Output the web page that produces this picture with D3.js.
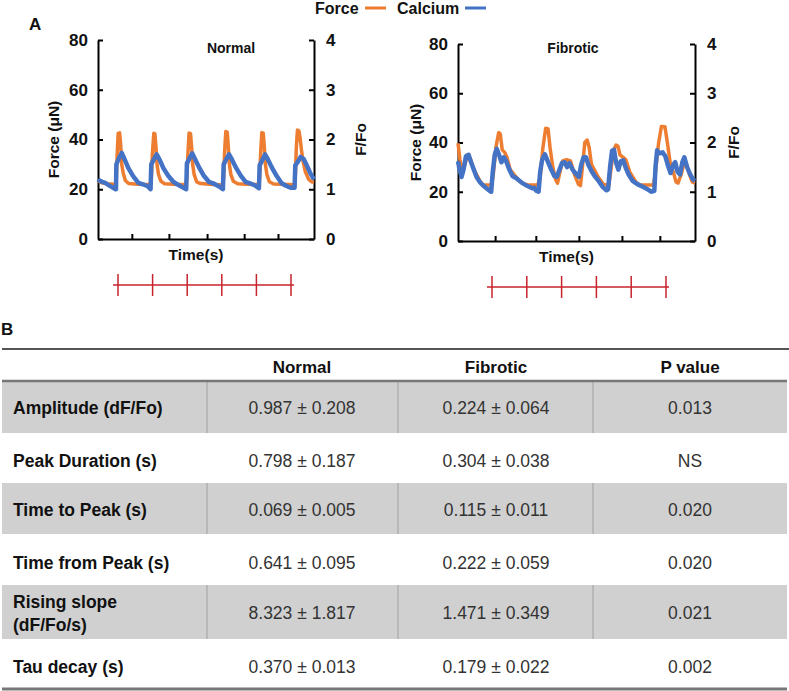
<!DOCTYPE html>
<html><head><meta charset="utf-8">
<script src="https://cdn.jsdelivr.net/npm/d3@7"></script>
<style>
html,body{margin:0;padding:0;background:#fff;}
svg{display:block;font-family:"Liberation Sans",Arial,Helvetica,sans-serif;}
</style></head>
<body>
<svg id="chart" width="789" height="691"></svg>
<script>
// ---------------- DATA ----------------
const seriesNames = ["Force", "Calcium"];
const panelTitles = ["Normal", "Fibrotic"];
const forceTicks = [0, 20, 40, 60, 80];
const ratioTicks = [0, 1, 2, 3, 4];
const timeTicksNormal = [0.94, 1.97, 3.03, 4.06, 5.0];
const timeTicksFibrotic = [0.94, 1.97, 3.06, 4.15, 5.11];
const stimuli = [0, 1, 2, 3, 4, 5];

// Normal: force (µN) vs time
const normalForce = [
  [0,23.3],[0.1,22.6],[0.25,22.2],[0.45,22],
  [0.5,22],[0.53,33],[0.56,42.5],[0.6,42.7],[0.63,38],[0.66,30],[0.7,26.5],[0.76,23.5],[0.85,22.3],[1.1,22],[1.35,21.9],[1.46,22],
  [1.48,24],[1.51,34],[1.55,42.5],[1.58,42.3],[1.61,37],[1.64,30],[1.68,26],[1.75,23.2],[1.85,22.2],[2.1,22],[2.45,21.8],
  [2.47,25],[2.5,35],[2.53,42.6],[2.57,42.4],[2.6,37],[2.63,30],[2.67,26],[2.74,23],[2.85,22.3],[3.1,22],[3.47,21.7],
  [3.49,25],[3.52,36],[3.55,43.2],[3.59,43],[3.62,37],[3.65,30],[3.69,26],[3.76,23.2],[3.88,22.2],[4.1,22],[4.47,21.9],
  [4.49,25],[4.52,35],[4.55,42.8],[4.59,42.6],[4.62,37],[4.65,30],[4.69,26],[4.76,23],[4.88,22.1],[5.1,22],[5.46,21.8],
  [5.48,25],[5.51,37],[5.54,43.8],[5.58,43.5],[5.61,41],[5.65,36],[5.7,31],[5.76,27],[5.85,24],[5.93,23],[6,22.8]
];
// Normal: calcium (F/Fo) vs time
const normalCalcium = [
  [0,1.2],[0.05,1.17],[0.12,1.15],[0.2,1.13],[0.3,1.08],[0.4,1.04],[0.49,1.0],
  [0.5,1.0],[0.51,1.5],[0.58,1.62],[0.66,1.73],[0.74,1.6],[0.84,1.43],[0.98,1.26],[1.12,1.13],[1.25,1.1],[1.38,1.06],[1.46,1.0],
  [1.48,1.5],[1.55,1.6],[1.63,1.7],[1.72,1.58],[1.82,1.42],[1.95,1.27],[2.08,1.16],[2.2,1.1],[2.35,1.04],[2.45,1.0],
  [2.47,1.52],[2.54,1.62],[2.62,1.72],[2.7,1.6],[2.8,1.45],[2.94,1.27],[3.08,1.15],[3.2,1.12],[3.35,1.06],[3.47,1.0],
  [3.49,1.5],[3.56,1.6],[3.64,1.7],[3.72,1.6],[3.82,1.45],[3.96,1.28],[4.1,1.15],[4.22,1.12],[4.35,1.08],[4.47,1.02],
  [4.49,1.48],[4.56,1.58],[4.64,1.7],[4.72,1.6],[4.82,1.45],[4.96,1.27],[5.1,1.12],[5.22,1.07],[5.35,1.03],[5.46,1.03],
  [5.48,1.48],[5.55,1.55],[5.63,1.65],[5.72,1.6],[5.8,1.48],[5.9,1.32],[6,1.2]
];
// Fibrotic: force (µN) vs time
const fibroticForce = [
  [0,39.7],[0.05,33],[0.1,28.8],[0.17,31],[0.25,35],[0.32,33],[0.4,29],[0.47,27],[0.55,24.5],[0.63,22.7],[0.75,22.7],[0.85,22.7],
  [0.9,28],[0.96,38],[1.03,44],[1.07,43.5],[1.12,37],[1.18,36],[1.24,34],[1.32,29],[1.42,27],[1.55,24.5],[1.68,23.2],[1.8,22.7],[2.02,22.7],
  [2.08,26],[2.15,38],[2.22,45.8],[2.28,45.5],[2.33,38],[2.4,30],[2.47,25],[2.52,23.5],[2.58,28],[2.65,32.5],[2.75,33],[2.85,32.5],[2.95,27],[3.05,23],[3.1,22.5],
  [3.15,30],[3.21,40],[3.27,41],[3.32,38],[3.38,31],[3.45,29],[3.55,26],[3.68,23],[3.82,22.7],
  [3.88,30],[3.94,37],[4.0,39],[4.05,38.5],[4.1,35],[4.18,34],[4.25,33],[4.35,28],[4.5,24],[4.6,22.7],[4.95,22.7],
  [5.0,28],[5.08,40],[5.15,46.5],[5.24,46.4],[5.3,40],[5.37,32],[5.45,28],[5.52,24],[5.57,23.5],[5.65,27],[5.72,31.5],[5.78,31],[5.86,27],[5.93,24],[6,23.5]
];
// Fibrotic: calcium (F/Fo) vs time
const fibroticCalcium = [
  [0,1.62],[0.04,1.45],[0.09,1.3],[0.14,1.45],[0.2,1.72],[0.27,1.75],[0.33,1.6],[0.4,1.45],[0.47,1.3],[0.55,1.2],[0.63,1.13],[0.72,1.07],[0.8,1.02],[0.84,1.0],
  [0.88,1.4],[0.93,1.75],[0.98,1.87],[1.04,1.75],[1.1,1.6],[1.16,1.7],[1.22,1.62],[1.3,1.45],[1.38,1.32],[1.5,1.26],[1.62,1.18],[1.75,1.12],[1.88,1.07],[1.93,1.08],[1.98,1.02],[2.04,1.0],
  [2.08,1.4],[2.13,1.65],[2.2,1.76],[2.28,1.6],[2.36,1.45],[2.44,1.32],[2.5,1.3],[2.57,1.45],[2.63,1.58],[2.7,1.6],[2.76,1.5],[2.82,1.58],[2.9,1.45],[3.0,1.35],[3.06,1.3],
  [3.12,1.55],[3.18,1.7],[3.24,1.7],[3.3,1.55],[3.38,1.42],[3.46,1.32],[3.56,1.22],[3.66,1.1],[3.76,1.03],[3.8,1.05],
  [3.85,1.5],[3.9,1.83],[3.95,1.85],[4.0,1.6],[4.06,1.45],[4.12,1.62],[4.18,1.64],[4.24,1.5],[4.32,1.35],[4.42,1.22],[4.55,1.15],[4.68,1.1],[4.8,1.05],[4.9,1.0],[4.97,1.02],
  [5.0,1.5],[5.04,1.84],[5.1,1.78],[5.18,1.8],[5.25,1.72],[5.32,1.52],[5.38,1.38],[5.45,1.55],[5.5,1.6],[5.56,1.4],[5.62,1.35],[5.68,1.6],[5.73,1.7],[5.8,1.5],[5.88,1.35],[5.95,1.25],[6,1.22]
];

// Table
const tableHeaders = ["", "Normal", "Fibrotic", "P value"];
const rowLabels = [["Amplitude (dF/Fo)"], ["Peak Duration (s)"], ["Time to Peak (s)"], ["Time from Peak (s)"], ["Rising slope", "(dF/Fo/s)"], ["Tau decay (s)"]];
const normalValues = ["0.987 ± 0.208", "0.798 ± 0.187", "0.069 ± 0.005", "0.641 ± 0.095", "8.323 ± 1.817", "0.370 ± 0.013"];
const fibroticValues = ["0.224 ± 0.064", "0.304 ± 0.038", "0.115 ± 0.011", "0.222 ± 0.059", "1.471 ± 0.349", "0.179 ± 0.022"];
const pValues = ["0.013", "NS", "0.020", "0.020", "0.021", "0.002"];

// ---------------- DRAW ----------------
const ORANGE = "#ED7D31", BLUE = "#4472C4", RED = "#C8232C";
const svg = d3.select("#chart");

const panels = [
  {title: panelTitles[0], force: normalForce, ca: normalCalcium, ticks: timeTicksNormal,
   x0: 98, x1: 314, yb: 239, yt: 40, stim: [118, 291], stimY: 285, ylab: 53, rlab: 360, titleX: 231},
  {title: panelTitles[1], force: fibroticForce, ca: fibroticCalcium, ticks: timeTicksFibrotic,
   x0: 458, x1: 695, yb: 241, yt: 44, stim: [492, 666], stimY: 287, ylab: 415, rlab: 733, titleX: 573}
];

panels.forEach(p => {
  const x = d3.scaleLinear().domain([0, 6]).range([p.x0, p.x1]);
  const yF = d3.scaleLinear().domain([0, 80]).range([p.yb, p.yt]);
  const yR = d3.scaleLinear().domain([0, 4]).range([p.yb, p.yt]);
  const g = svg.append("g");

  const styleAxis = sel => {
    sel.select(".domain").attr("stroke", "#000").attr("stroke-width", 2);
    sel.selectAll(".tick line").attr("stroke", "#000").attr("stroke-width", 2);
    sel.selectAll(".tick text").attr("font-size", 17).attr("font-weight", "bold").attr("fill", "#111")
      .attr("font-family", "'Liberation Sans', Arial, sans-serif");
  };

  g.append("g").attr("transform", `translate(${p.x0},0)`)
    .call(d3.axisLeft(yF).tickValues(forceTicks).tickFormat(d3.format("d")).tickSizeInner(-5).tickSizeOuter(0).tickPadding(10))
    .call(styleAxis);
  g.append("g").attr("transform", `translate(${p.x1},0)`)
    .call(d3.axisRight(yR).tickValues(ratioTicks).tickFormat(d3.format("d")).tickSizeInner(-5).tickSizeOuter(0).tickPadding(12))
    .call(styleAxis);
  g.append("g").attr("transform", `translate(0,${p.yb})`)
    .call(d3.axisBottom(x).tickValues(p.ticks).tickSizeInner(-5).tickSizeOuter(0).tickFormat(""))
    .call(styleAxis);

  const lineF = d3.line().x(d => x(d[0])).y(d => yF(d[1]));
  const lineR = d3.line().x(d => x(d[0])).y(d => yR(d[1]));
  g.append("path").datum(p.force).attr("d", lineF).attr("fill", "none")
    .attr("stroke", ORANGE).attr("stroke-width", 3.5).attr("stroke-linejoin", "round");
  g.append("path").datum(p.ca).attr("d", lineR).attr("fill", "none")
    .attr("stroke", BLUE).attr("stroke-width", 4.5).attr("stroke-linejoin", "round");

  g.append("text").attr("x", p.titleX).attr("y", 48).attr("text-anchor", "middle")
    .attr("dominant-baseline", "central").attr("font-size", 14).attr("font-weight", "bold").attr("fill", "#111").text(p.title);
  g.append("text").attr("transform", `translate(${p.ylab},${(p.yb + p.yt) / 2}) rotate(-90)`)
    .attr("text-anchor", "middle").attr("dominant-baseline", "central")
    .attr("font-size", 15.5).attr("font-weight", "bold").attr("fill", "#111").text("Force (μN)");
  g.append("text").attr("transform", `translate(${p.rlab},${(p.yb + p.yt) / 2}) rotate(-90)`)
    .attr("text-anchor", "middle").attr("dominant-baseline", "central")
    .attr("font-size", 15.5).attr("font-weight", "bold").attr("fill", "#111").text("F/Fo");
  g.append("text").attr("x", (p.x0 + p.x1) / 2 - 10).attr("y", p.yb + 15).attr("text-anchor", "middle")
    .attr("dominant-baseline", "central").attr("font-size", 15.5).attr("font-weight", "bold").attr("fill", "#111").text("Time(s)");

  // stimulation markers
  const s = d3.scaleLinear().domain([0, stimuli.length - 1]).range(p.stim);
  g.append("line").attr("x1", s(0) - 5).attr("x2", s(stimuli.length - 1) + 3)
    .attr("y1", p.stimY).attr("y2", p.stimY).attr("stroke", RED).attr("stroke-width", 1.5);
  g.selectAll(".stim").data(stimuli).join("line")
    .attr("x1", d => s(d)).attr("x2", d => s(d)).attr("y1", p.stimY - 11).attr("y2", p.stimY + 11)
    .attr("stroke", RED).attr("stroke-width", 1.5);
});

// Panel letter A and legend
svg.append("text").attr("x", 29).attr("y", 24).attr("dominant-baseline", "central")
  .attr("font-size", 17).attr("font-weight", "bold").attr("fill", "#111").text("A");
const legend = svg.append("g");
const legItems = [{name: seriesNames[0], color: ORANGE, tx: 315, lx: 365}, {name: seriesNames[1], color: BLUE, tx: 397, lx: 465}];
legItems.forEach(it => {
  legend.append("text").attr("x", it.tx).attr("y", 8).attr("dominant-baseline", "central")
    .attr("font-size", 16).attr("font-weight", "bold").attr("fill", "#111").text(it.name);
  legend.append("line").attr("x1", it.lx).attr("x2", it.lx + 21).attr("y1", 8).attr("y2", 8)
    .attr("stroke", it.color).attr("stroke-width", 3);
});

// ---------------- TABLE ----------------
svg.append("text").attr("x", 1).attr("y", 329).attr("dominant-baseline", "central")
  .attr("font-size", 17).attr("font-weight", "bold").attr("fill", "#111").text("B");

const tableLeft = 2, tableRight = 787;
const colEdges = [tableLeft, 207, 398, 593, tableRight];
const rowEdges = [381, 433, 483, 534, 585, 639, 688];
const tg = svg.append("g");

// shaded rows
rowLabels.forEach((r, i) => {
  if (i % 2 === 0) {
    tg.append("rect").attr("x", tableLeft).attr("y", rowEdges[i]).attr("width", tableRight - tableLeft)
      .attr("height", rowEdges[i + 1] - rowEdges[i]).attr("fill", "#d0d0d0");
    colEdges.slice(1, 4).forEach(cx => {
      tg.append("line").attr("x1", cx).attr("x2", cx).attr("y1", rowEdges[i]).attr("y2", rowEdges[i + 1])
        .attr("stroke", "#a0a0a0").attr("stroke-width", 1);
    });
  }
});
// rules
tg.append("line").attr("x1", tableLeft).attr("x2", 789).attr("y1", 349).attr("y2", 349).attr("stroke", "#555").attr("stroke-width", 2);
tg.append("line").attr("x1", tableLeft).attr("x2", tableRight).attr("y1", 381).attr("y2", 381).attr("stroke", "#777").attr("stroke-width", 2.5);
tg.append("line").attr("x1", tableLeft).attr("x2", tableRight).attr("y1", 689).attr("y2", 689).attr("stroke", "#777").attr("stroke-width", 3);

const colCenters = [null, 302, 496, 690];
tableHeaders.forEach((h, j) => {
  if (!h) return;
  tg.append("text").attr("x", colCenters[j]).attr("y", 367).attr("text-anchor", "middle")
    .attr("dominant-baseline", "central").attr("font-size", 17).attr("font-weight", "bold").attr("fill", "#111").text(h);
});
rowLabels.forEach((lab, i) => {
  const cy = (rowEdges[i] + rowEdges[i + 1]) / 2 + (i % 2 === 1 ? 3 : 1);
  lab.forEach((line, k) => {
    tg.append("text").attr("x", 13).attr("y", cy + (k - (lab.length - 1) / 2) * 23)
      .attr("dominant-baseline", "central").attr("font-size", 17.5).attr("font-weight", "bold").attr("fill", "#111").text(line);
  });
  [normalValues[i], fibroticValues[i], pValues[i]].forEach((v, j) => {
    tg.append("text").attr("x", colCenters[j + 1]).attr("y", cy).attr("text-anchor", "middle")
      .attr("dominant-baseline", "central").attr("font-size", 17.5).attr("fill", "#333").text(v);
  });
});
</script>
</body></html>
